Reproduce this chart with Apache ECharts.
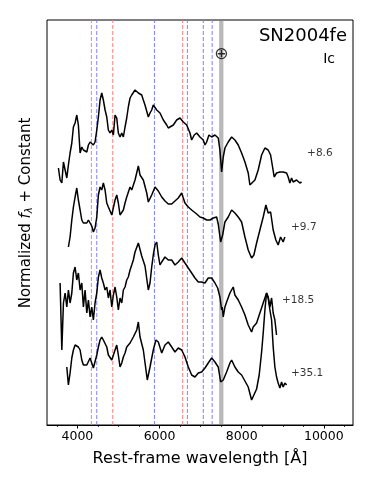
<!DOCTYPE html>
<html>
<head>
<meta charset="utf-8">
<script src="https://cdn.jsdelivr.net/npm/echarts@6/dist/echarts.min.js"></script>
<style>
  html, body { margin: 0; padding: 0; background: #fff; }
  #chart { width: 374px; height: 486px; }
</style>
</head>
<body>
<div id="chart"></div>
<script>
// spectra (wavelength in A, normalized flux + constant)
const spec1Wave = [3538,3579,3621,3660,3701,3742,3781,3822,3864,3903,3944,3985,4024,4066,4107,4146,4187,4229,4268,4309,4350,4389,4430,4472,4511,4552,4593,4632,4674,4715,4754,4795,4837,4876,4917,4958,4997,5038,5080,5119,5160,5201,5240,5282,5323,5362,5403,5445,5484,5566,5605,5646,5688,5727,5768,5809,5848,5873,5931,6011,6092,6174,6213,6254,6335,6417,6498,6578,6661,6741,6782,6845,6904,6984,7064,7106,7147,7203,7269,7349,7390,7429,7470,7512,7551,7592,7672,7755,7794,7835,7916,7998,8079,8159,8200,8241,8322,8402,8485,8565,8645,8704,8752,8791,8849,8930,9010,9093,9132,9173,9214,9253,9336,9416,9458];
const spec1Flux = [2.57,2.45,2.42,2.63,2.55,2.47,2.60,2.72,2.82,2.98,3.02,3.10,3.00,2.72,2.78,2.75,2.77,2.73,2.80,2.83,2.85,2.80,2.83,2.95,3.08,3.25,3.32,3.25,3.15,3.08,2.95,2.92,2.95,2.90,3.10,3.07,2.92,2.88,2.92,2.88,2.98,3.07,3.18,3.27,3.30,3.32,3.35,3.37,3.32,3.30,3.25,3.20,3.18,3.08,3.12,3.15,3.20,3.22,3.15,3.12,3.05,3.00,2.97,2.98,3.00,3.05,3.07,3.03,3.00,2.92,2.85,2.90,2.92,2.88,2.85,2.80,2.83,2.90,2.88,2.90,2.88,2.87,2.75,2.53,2.68,2.77,2.83,2.88,2.90,2.85,2.80,2.72,2.63,2.52,2.40,2.42,2.45,2.55,2.70,2.77,2.75,2.70,2.58,2.48,2.52,2.53,2.53,2.52,2.48,2.42,2.47,2.43,2.45,2.42,2.43];

const spec2Wave = [3781,3822,3864,3903,3944,3985,4024,4066,4107,4146,4229,4268,4309,4350,4389,4430,4472,4511,4552,4593,4632,4674,4715,4754,4795,4837,4876,4917,4958,4997,5038,5080,5119,5160,5201,5282,5323,5403,5445,5484,5525,5605,5688,5727,5809,5890,5970,6053,6133,6213,6296,6376,6456,6539,6578,6619,6700,6782,6904,6984,7064,7147,7227,7308,7390,7429,7488,7536,7592,7672,7755,7835,7916,7998,8079,8159,8241,8297,8363,8443,8524,8589,8645,8704,8767,8832,8888,8947,9010,9051];
const spec2Flux = [1.78,1.88,2.05,2.18,2.28,2.37,2.25,2.15,2.05,2.02,2.02,2.05,2.02,1.99,1.93,1.97,2.08,2.30,2.38,2.35,2.42,2.35,2.22,2.18,2.17,2.10,2.12,2.25,2.30,2.22,2.10,2.12,2.15,2.22,2.28,2.38,2.35,2.45,2.47,2.59,2.50,2.45,2.32,2.23,2.30,2.38,2.34,2.28,2.24,2.21,2.21,2.24,2.27,2.32,2.27,2.22,2.18,2.15,2.11,2.08,2.07,2.05,2.05,2.07,2.08,2.01,1.83,1.90,2.03,2.08,2.15,2.12,2.08,2.03,1.88,1.75,1.67,1.70,1.82,1.95,2.08,2.20,2.12,2.13,1.95,1.85,1.80,1.88,1.83,1.88];

const spec3Wave = [3579,3621,3660,3701,3742,3781,3822,3864,3903,3944,3985,4024,4066,4107,4146,4187,4229,4268,4309,4350,4389,4430,4472,4511,4552,4593,4632,4674,4715,4754,4795,4837,4876,4917,4958,4997,5038,5080,5119,5160,5201,5240,5282,5323,5362,5403,5445,5484,5566,5646,5727,5768,5809,5848,5890,5931,5970,6011,6053,6092,6133,6174,6213,6254,6296,6335,6376,6417,6456,6498,6539,6578,6619,6700,6782,6862,6943,7025,7106,7186,7269,7349,7415,7470,7512,7526,7551,7592,7633,7714,7794,7835,7916,7998,8079,8159,8241,8280,8363,8443,8524,8606,8645,8687,8728,8767,8808,8849];
const spec3Flux = [1.42,0.75,1.22,1.32,1.18,1.35,1.22,1.32,1.52,1.58,1.45,1.52,1.35,1.42,1.18,1.35,1.12,1.25,1.08,1.18,1.05,1.22,1.32,1.48,1.55,1.47,1.42,1.35,1.38,1.27,1.35,1.18,1.30,1.38,1.28,1.15,1.27,1.22,1.35,1.38,1.45,1.48,1.55,1.60,1.65,1.73,1.75,1.82,1.69,1.59,1.35,1.42,1.58,1.70,1.80,1.83,1.70,1.60,1.63,1.65,1.68,1.67,1.65,1.65,1.65,1.64,1.60,1.62,1.63,1.65,1.67,1.65,1.62,1.57,1.52,1.47,1.43,1.43,1.42,1.47,1.47,1.42,1.37,1.28,1.15,1.18,1.08,1.18,1.23,1.32,1.38,1.30,1.25,1.18,1.10,1.00,0.93,0.98,1.02,1.12,1.22,1.32,1.28,1.18,1.27,1.12,1.05,0.90];

const spec4Wave = [3742,3781,3822,3864,3903,3944,3985,4024,4066,4107,4146,4229,4309,4350,4389,4430,4472,4511,4552,4593,4632,4715,4754,4837,4876,4917,4958,4997,5038,5080,5119,5160,5201,5282,5362,5445,5484,5525,5605,5702,5768,5848,5912,5970,6053,6133,6213,6296,6376,6456,6539,6619,6700,6782,6862,6943,7025,7106,7186,7269,7349,7429,7488,7551,7633,7714,7755,7835,7916,7998,8079,8159,8241,8280,8363,8426,8485,8524,8565,8606,8645,8687,8728,8767,8808,8849,8888,8930,8971,9010,9051,9093];
const spec4Flux = [0.58,0.40,0.52,0.67,0.75,0.80,0.82,0.78,0.75,0.65,0.60,0.60,0.67,0.62,0.57,0.58,0.70,0.78,0.85,0.88,0.85,0.78,0.70,0.65,0.63,0.75,0.80,0.70,0.58,0.62,0.68,0.72,0.78,0.82,0.88,0.95,1.03,0.88,0.75,0.45,0.58,0.75,0.85,0.83,0.72,0.80,0.83,0.78,0.73,0.77,0.75,0.68,0.58,0.50,0.48,0.52,0.53,0.57,0.62,0.67,0.63,0.58,0.43,0.45,0.53,0.62,0.65,0.58,0.53,0.50,0.44,0.38,0.25,0.23,0.36,0.50,0.73,0.92,1.15,1.32,1.27,1.15,1.05,0.78,0.58,0.48,0.42,0.37,0.43,0.38,0.42,0.40];

// epoch labels
const epochText = ['+8.6', '+9.7', '+18.5', '+35.1'];
const epochWave = [9580, 9190, 8970, 9190];
const epochFlux = [2.72, 1.98, 1.25, 0.52];

// line identifications
const redLines = [4340, 4861, 6563];              // H
const blueLines = [4471, 5876, 6678, 7065, 7281]; // He I
const telluric = [7450, 7555];
const tellMarkFlux = 3.70;

const yMin = 0;
const yMax = 4.05;

const majorTicks = [4000, 6000, 8000, 10000];
const minorTicks = [3500, 4500, 5000, 5500, 6500, 7000, 7500, 8500, 9000, 9500, 10500];

const chart = echarts.init(document.getElementById('chart'));

function zip(w, f) {
  return w.map(function (v, i) { return [v, f[i]]; });
}

const spectra = [[spec1Wave, spec1Flux], [spec2Wave, spec2Flux], [spec3Wave, spec3Flux], [spec4Wave, spec4Flux]];

let series = [];

// dashed line ids, each one a two point line from bottom to top
function vline(w, color) {
  return {
    type: 'line',
    data: [[w, yMin], [w, yMax]],
    showSymbol: false,
    symbol: 'none',
    silent: true,
    lineStyle: { color: color, type: [4, 2], width: 1 },
    z: 2
  };
}
redLines.forEach(function (w) { series.push(vline(w, '#ff8080')); });
blueLines.forEach(function (w) { series.push(vline(w, '#8080ff')); });

// telluric band
series.push({
  type: 'line',
  data: [],
  markArea: {
    silent: true,
    itemStyle: { color: 'rgba(128,128,128,0.55)' },
    data: [[{ xAxis: telluric[0] }, { xAxis: telluric[1] }]]
  },
  z: 2
});

spectra.forEach(function (s) {
  series.push({
    type: 'line',
    data: zip(s[0], s[1]),
    showSymbol: false,
    symbol: 'none',
    lineStyle: { color: '#000', width: 1.5 },
    z: 5
  });
});

// epoch labels
series.push({
  type: 'scatter',
  symbolSize: 1,
  itemStyle: { color: 'rgba(0,0,0,0)' },
  data: epochWave.map(function (w, i) { return { value: [w, epochFlux[i]], name: epochText[i] }; }),
  label: {
    show: true,
    position: 'right',
    distance: 0,
    formatter: '{b}',
    fontFamily: 'DejaVu Sans',
    fontSize: 10.5,
    color: '#000'
  },
  z: 6
});

// earth symbol over telluric band
series.push({
  type: 'scatter',
  symbolSize: 1,
  itemStyle: { color: 'rgba(0,0,0,0)' },
  data: [{ value: [(telluric[0] + telluric[1]) / 2, tellMarkFlux], name: '⊕' }],
  label: {
    show: true,
    position: 'inside',
    formatter: '{b}',
    fontFamily: 'DejaVu Sans',
    fontSize: 17,
    color: '#000'
  },
  z: 6
});

chart.setOption({
  animation: false,
  grid: {
    left: 47,
    right: 21,
    top: 20,
    bottom: 61,
    show: true,
    borderColor: '#000',
    borderWidth: 1,
    backgroundColor: 'transparent'
  },
  xAxis: [
    {
      type: 'value',
      min: 3260,
      max: 10710,
      axisLine: { show: true, onZero: false, lineStyle: { color: '#000', width: 1 } },
      axisTick: { show: true, customValues: majorTicks, length: 3.5, lineStyle: { color: '#000', width: 1 } },
      axisLabel: {
        customValues: majorTicks,
        formatter: function (v) { return String(v); },
        color: '#000',
        fontFamily: 'DejaVu Sans',
        fontSize: 12.5,
        margin: 5
      },
      splitLine: { show: false },
      name: 'Rest-frame wavelength [Å]',
      nameLocation: 'middle',
      nameGap: 26,
      nameTextStyle: { color: '#000', fontFamily: 'DejaVu Sans', fontSize: 16 }
    },
    {
      type: 'value',
      position: 'bottom',
      min: 3260,
      max: 10710,
      axisLine: { show: false },
      axisTick: { show: true, customValues: minorTicks, length: 2, lineStyle: { color: '#000', width: 0.8 } },
      axisLabel: { show: false },
      splitLine: { show: false }
    }
  ],
  yAxis: {
    type: 'value',
    min: yMin,
    max: yMax,
    axisLine: { show: false },
    axisTick: { show: false },
    axisLabel: { show: false },
    splitLine: { show: false }
  },
  graphic: [
    {
      type: 'text',
      x: 26,
      y: 213,
      rotation: Math.PI / 2,
      style: {
        text: '{n|Normalized }{f|f}{s|λ}{n| + Constant}',
        align: 'center',
        verticalAlign: 'middle',
        rich: {
          n: { fontFamily: 'DejaVu Sans', fontSize: 15, fill: '#000' },
          f: { fontFamily: 'DejaVu Sans', fontStyle: 'italic', fontSize: 15, fill: '#000' },
          s: { fontFamily: 'DejaVu Sans', fontStyle: 'italic', fontSize: 10, fill: '#000', padding: [7, 0, 0, 0] }
        }
      }
    },
    {
      type: 'text',
      x: 347,
      y: 36,
      style: {
        text: 'SN2004fe',
        align: 'right',
        verticalAlign: 'middle',
        fontFamily: 'DejaVu Sans',
        fontSize: 18,
        fill: '#000'
      }
    },
    {
      type: 'text',
      x: 335,
      y: 59,
      style: {
        text: 'Ic',
        align: 'right',
        verticalAlign: 'middle',
        fontFamily: 'DejaVu Sans',
        fontSize: 14,
        fill: '#000'
      }
    }
  ],
  series: series
});
</script>
</body>
</html>
